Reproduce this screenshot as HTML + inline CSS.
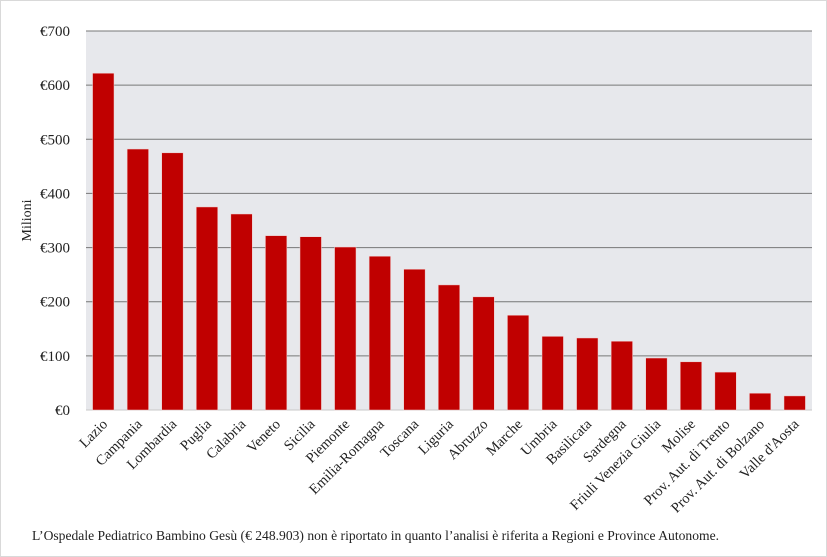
<!DOCTYPE html>
<html><head><meta charset="utf-8"><style>
body{margin:0;background:#fff;}
#c{position:absolute;left:0;top:0;width:825px;height:555px;border:1px solid #d9d9d9;}
text{font-family:"Liberation Serif",serif;fill:#222;}
</style></head><body>
<div id="c"></div>
<svg id="s" width="827" height="557" style="position:absolute;left:0;top:0"></svg>
<script>
const categories=["Lazio","Campania","Lombardia","Puglia","Calabria","Veneto","Sicilia","Piemonte","Emilia-Romagna","Toscana","Liguria","Abruzzo","Marche","Umbria","Basilicata","Sardegna","Friuli Venezia Giulia","Molise","Prov. Aut. di Trento","Prov. Aut. di Bolzano","Valle d'Aosta"];
const values=[622,482,475,375,362,322,320,301,284,260,231,209,175,136,133,127,96,89,70,31,26];
const ticks=[0,100,200,300,400,500,600,700];
const tickLabels=["€0","€100","€200","€300","€400","€500","€600","€700"];
const NS="http://www.w3.org/2000/svg",s=document.getElementById('s');
const L=86,R=812,T=31,B=410,maxV=700;
const y=v=>B-(B-T)*v/maxV;
const slot=(R-L)/categories.length;
const x=i=>L+slot*(i+0.5);
function el(t,a){const e=document.createElementNS(NS,t);for(const k in a)e.setAttribute(k,a[k]);s.appendChild(e);return e;}
const bg=el('rect',{x:L,y:T,width:R-L,height:B-T,fill:'#e7e8ec'});


ticks.forEach((t,i)=>{
  const g=el('line',{x1:L,x2:R,y1:y(t),y2:y(t),stroke:t===0?'#c8c8c8':'#777','stroke-width':1});
  
  
  const tx=el('text',{x:70,y:y(t)+5,'text-anchor':'end','font-size':15});
  tx.textContent=tickLabels[i];
  
  
});
const bw=slot*0.62;
values.forEach((v,i)=>{
  const r=el('rect',{x:x(i)-bw/2,y:y(v),width:bw,height:B-y(v),fill:'#c00000',stroke:'#f2d0d0','stroke-width':0.5});
  
  
  const t=el('text',{x:0,y:0,'text-anchor':'end','font-size':14.5,transform:`translate(${x(i)+5},${B+15}) rotate(-45)`});
  t.textContent=categories[i];
  
  
});
const yt=el('text',{x:0,y:0,'text-anchor':'middle','font-size':14,transform:`translate(31,${(T+B)/2}) rotate(-90)`});
yt.textContent='Milioni';


const n=el('text',{x:32,y:540,'font-size':14,textLength:687,lengthAdjust:'spacingAndGlyphs'});
n.textContent="L’Ospedale Pediatrico Bambino Gesù (€ 248.903) non è riportato in quanto l’analisi è riferita a Regioni e Province Autonome.";


</script>
</body></html>
